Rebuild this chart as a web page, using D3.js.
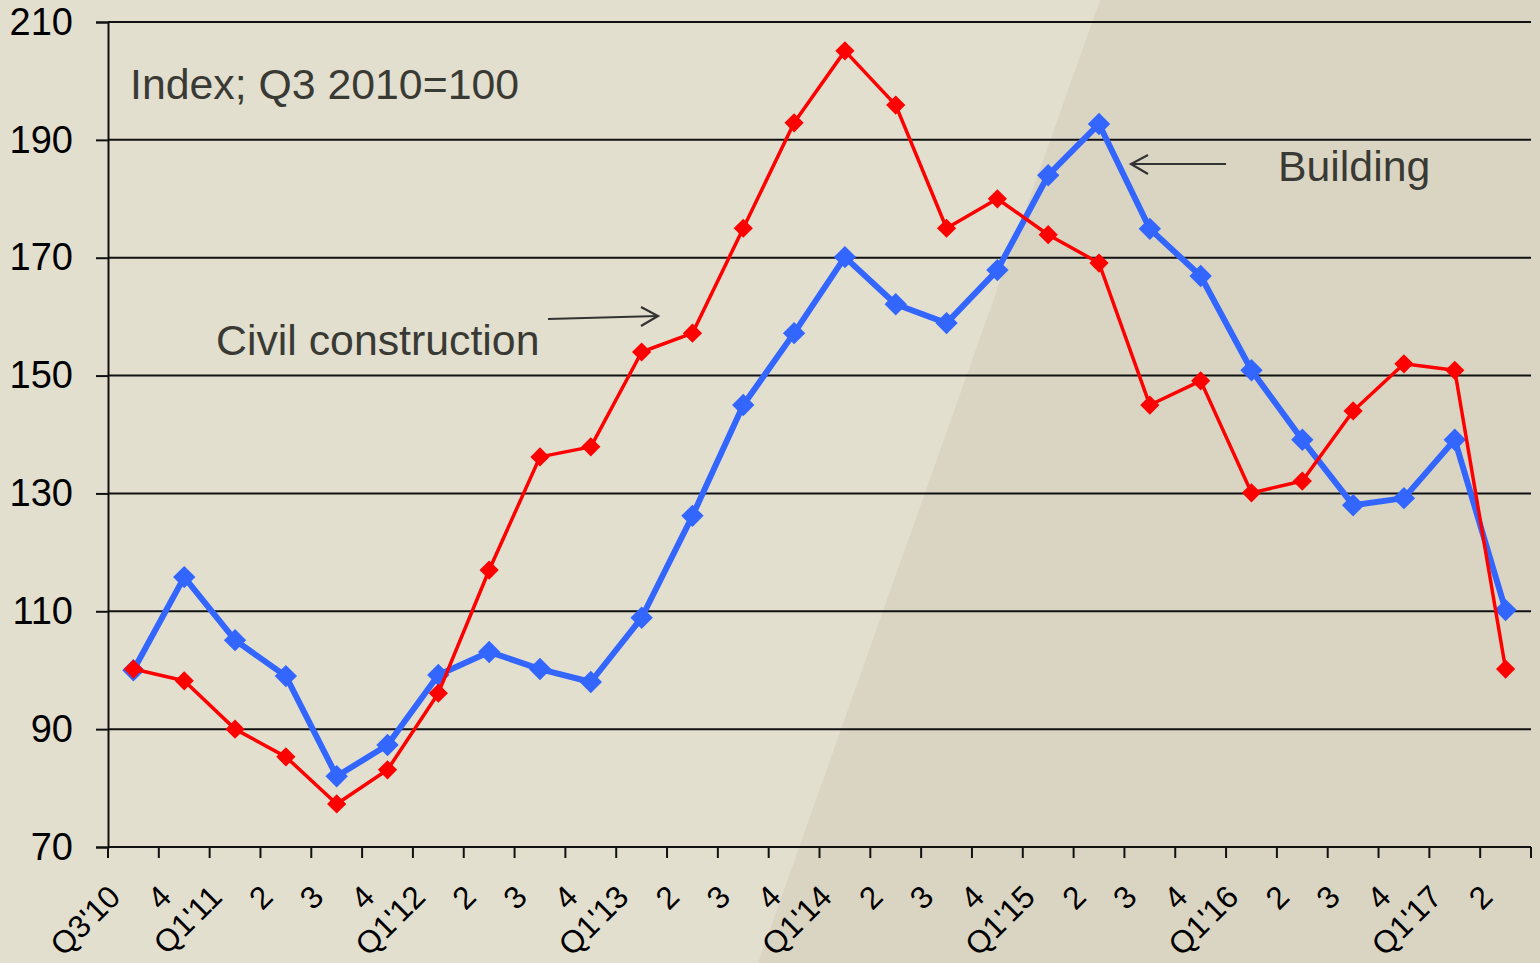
<!DOCTYPE html>
<html><head><meta charset="utf-8">
<script src="https://cdn.jsdelivr.net/npm/d3@7"></script>
<style>
html,body{margin:0;padding:0;background:#e2dfcf;}
svg{display:block;font-family:"Liberation Sans",Arial,sans-serif;}
</style></head>
<body>
<svg id="chart" width="1540" height="963"></svg>
<script>
const categories = ["Q3'10","4","Q1'11","2","3","4","Q1'12","2","3","4","Q1'13","2","3","4","Q1'14","2","3","4","Q1'15","2","3","4","Q1'16","2","3","4","Q1'17","2"];
const building = [100,115.8,105.1,99,82,87.3,99.2,103.1,100.2,98,108.9,126.2,145,157.2,170.1,162.1,158.9,167.9,184,192.7,174.9,166.9,150.9,139.1,128,129.2,139.1,110.2];
const civil = [100.2,98.2,90,85.3,77.3,83.1,96.1,117,136.2,137.9,154,157.2,175,192.9,205.1,195.9,175,180,173.9,169.1,145,149.1,130.1,132.1,144,152,150.9,100.2];
const yTicks = [70,90,110,130,150,170,190,210];
const seriesNames = ["Building","Civil construction"];
const unitNote = "Index; Q3 2010=100";

const svg = d3.select("#chart");
const W = 1540, H = 963;
const L = 108, R = 1531, T = 22, B = 847;

// background with diagonal shaded region
svg.append("rect").attr("width",W).attr("height",H).attr("fill","#e2dfcf");
svg.append("polygon")
  .attr("points",`1100,0 ${W},0 ${W},${H} 758,${H}`)
  .attr("fill","#dad5c3");

const x = d3.scaleBand().domain(d3.range(categories.length)).range([L,R]).padding(0);
const cx = i => x(i) + x.bandwidth()/2;
const y = d3.scaleLinear().domain([70,210]).range([B,T]);

// gridlines
svg.append("g").selectAll("line").data(yTicks.filter(v=>v>70)).join("line")
  .attr("x1",L).attr("x2",R).attr("y1",d=>y(d)).attr("y2",d=>y(d))
  .attr("stroke","#111").attr("stroke-width",2);

// y axis
const yAxis = svg.append("g").attr("transform",`translate(${L},0)`)
  .call(d3.axisLeft(y).tickValues(yTicks).tickSize(12).tickPadding(23).tickFormat(d3.format("d")));
yAxis.select(".domain").attr("stroke","#111").attr("stroke-width",2);
yAxis.selectAll(".tick line").attr("stroke","#111").attr("stroke-width",2);
yAxis.selectAll(".tick text").attr("font-size",38).attr("fill","#000")
  .attr("font-family","'Liberation Sans',Arial,sans-serif");

// x axis
const xg = svg.append("g");
xg.append("line").attr("x1",L).attr("x2",R).attr("y1",B).attr("y2",B)
  .attr("stroke","#111").attr("stroke-width",2);
const bounds = d3.range(categories.length+1).map(i => i<categories.length ? x(i) : R);
xg.selectAll("line.tk").data(bounds).join("line").attr("class","tk")
  .attr("x1",d=>d).attr("x2",d=>d).attr("y1",B).attr("y2",B+11)
  .attr("stroke","#111").attr("stroke-width",2);
xg.selectAll("text").data(categories).join("text")
  .attr("transform",(d,i)=>`translate(${cx(i)-19},891) rotate(-45)`)
  .attr("text-anchor","end").attr("dy","0.35em")
  .attr("font-size",31.5).attr("fill","#000")
  .text(d=>d);

// lines
const line = d3.line().x((d,i)=>cx(i)).y(d=>y(d));

svg.append("path").datum(building).attr("d",line)
  .attr("fill","none").attr("stroke","#3366ff").attr("stroke-width",6).attr("stroke-linejoin","round");
svg.append("g").selectAll("path").data(building).join("path")
  .attr("d",d3.symbol().type(d3.symbolSquare).size(250)())
  .attr("transform",(d,i)=>`translate(${cx(i)},${y(d)}) rotate(45)`)
  .attr("fill","#3366ff");

svg.append("path").datum(civil).attr("d",line)
  .attr("fill","none").attr("stroke","#ff0000").attr("stroke-width",3.5).attr("stroke-linejoin","round");
svg.append("g").selectAll("path").data(civil).join("path")
  .attr("d",d3.symbol().type(d3.symbolSquare).size(185)())
  .attr("transform",(d,i)=>`translate(${cx(i)},${y(d)}) rotate(45)`)
  .attr("fill","#ff0000");

// annotations
const txtColor = "#3a3a35";
svg.append("text").attr("x",130).attr("y",99).attr("font-size",42.8).attr("fill",txtColor).text(unitNote);
svg.append("text").attr("x",216).attr("y",355).attr("font-size",42.8).attr("fill",txtColor).text(seriesNames[1]);
svg.append("text").attr("x",1278).attr("y",181).attr("font-size",42.8).attr("fill",txtColor).text(seriesNames[0]);

const arrowG = svg.append("g").attr("stroke","#333").attr("stroke-width",2.2).attr("fill","none");
arrowG.append("line").attr("x1",548).attr("y1",319).attr("x2",658).attr("y2",316);
arrowG.append("polyline").attr("points","641,307 658,316 641,326");
arrowG.append("line").attr("x1",1226).attr("y1",164).attr("x2",1131).attr("y2",164);
arrowG.append("polyline").attr("points","1148,155 1131,164 1148,174");
</script>
</body></html>
